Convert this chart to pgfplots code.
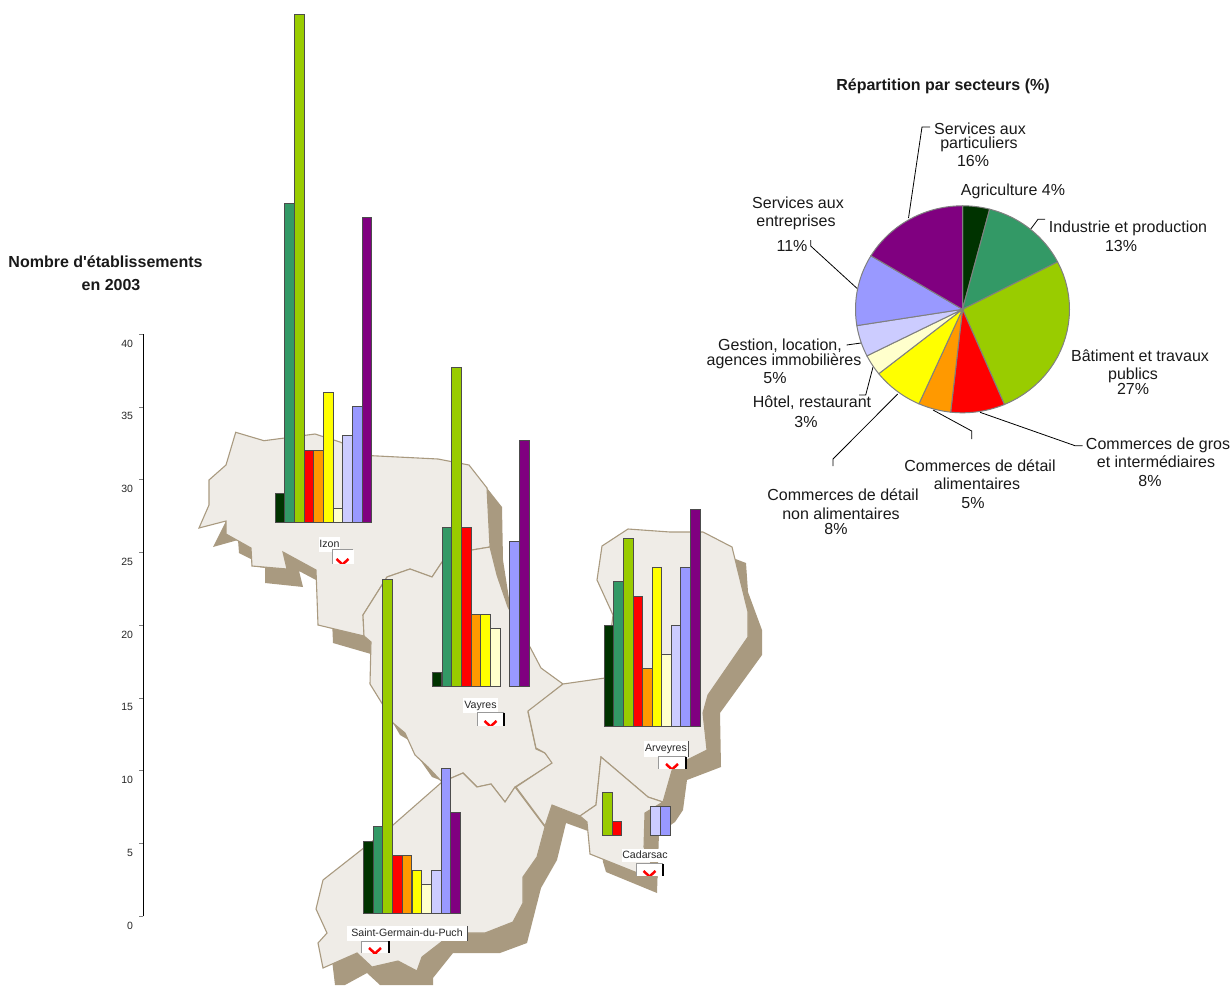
\documentclass[border=0pt]{standalone}
\usepackage{pgfplots}
\pgfplotsset{compat=1.18}
\usepackage{fontspec}
\setmainfont{Liberation Sans}
\newfontfamily\titlefont{Liberation Sans}
\newcommand\fs[1]{\fontsize{#1}{#1}\selectfont}

% Sector colours, in legend order
\definecolor{sec0}{HTML}{003300}
\definecolor{sec1}{HTML}{339966}
\definecolor{sec2}{HTML}{99CC00}
\definecolor{sec3}{HTML}{FF0000}
\definecolor{sec4}{HTML}{FF9900}
\definecolor{sec5}{HTML}{FFFF00}
\definecolor{sec6}{HTML}{FFFFCC}
\definecolor{sec7}{HTML}{CCCCFF}
\definecolor{sec8}{HTML}{9999FF}
\definecolor{sec9}{HTML}{800080}
\definecolor{land}{HTML}{EFECE7}
\definecolor{relief}{HTML}{A99A80}
\definecolor{slicegray}{HTML}{808080}

% One commune: a hidden axis whose vertical scale is shared with the drawn ruler
\newenvironment{commune}[3][97]{%
  \begin{axis}[
    scale only axis, width=#1pt, height=581pt,
    at={(#2pt,{985pt-#3pt})}, anchor=south west,
    xmin=-0.5, xmax=9.5, ymin=0, ymax=40,
    hide axis, clip=false]
}{\end{axis}}
\newcommand\secbar[2]{%
  \addplot[ybar, bar width=9.6pt, bar shift=0pt, fill=sec#1, draw=black!70, line width=1pt]
    coordinates {(#1,#2)};}

% Map outlines in page coordinates
\newcommand\relief[1]{\addplot[fill=relief, draw=none, forget plot] coordinates {#1} -- cycle;}
\newcommand\commarea[1]{\addplot[fill=land, draw=relief, line width=1.1pt, forget plot] coordinates {#1} -- cycle;}
\newcommand\leader[1]{\addplot[black, line width=0.8pt, forget plot] coordinates {#1};}

% Pie slice built from a count of establishments (total 367), clockwise from the top
\def\cum{0}
\newcommand\pieslice[2]{%
  \pgfmathsetmacro\wa{\cum/367*360}%
  \pgfmathsetmacro\wb{(\cum+#2)/367*360}%
  \xdef\pts{(0,0)}%
  \foreach \k in {0,...,24}{%
    \pgfmathsetmacro\t{\wa+(\wb-\wa)*\k/24}%
    \pgfmathsetmacro\px{sin(\t)}%
    \pgfmathsetmacro\py{cos(\t)}%
    \xdef\pts{\pts (\px,\py)}%
  }%
  \edef\tmp{\noexpand\addplot[fill=sec#1, draw=slicegray, line width=1pt, forget plot] coordinates {\pts} -- cycle;}\tmp
  \pgfmathsetmacro\nc{\cum+#2}\xdef\cum{\nc}%
}

% Place-name tag with its broken picture frame
\def\frameedge{black}
\newcommand\placetag[9]{%
  \fill[white] (#1,#2) rectangle (#3,#4);
  \node[font=\fs{10.6}, text=black!85, inner sep=0pt, text height=.72em, text depth=.2em] at ({(#1+#3)/2},{(#2+#4)/2}) {#5};
  \fill[white] (#6,#7) rectangle (#8,#9);
  \draw[gray!80, line width=1pt] (#6,#9) -- (#6,#7) -- (#8,#7);
  \draw[\frameedge, line width=1.2pt] (#8,#7) -- (#8,#9);
  \begin{scope}
    \clip (#6,#7) rectangle (#8,#9);
    \draw[red, line width=2.5pt] ({(#6+#8)/2-6},{#9-5}) -- ({(#6+#8)/2+6},{#9+6});
    \draw[red, line width=2.5pt] ({(#6+#8)/2+6},{#9-5}) -- ({(#6+#8)/2-6},{#9+6});
  \end{scope}
}

\begin{document}
\begin{tikzpicture}
\useasboundingbox (0,0) rectangle (1231pt,985pt);

% Base map
\begin{axis}[
  scale only axis, width=1231pt, height=985pt, at={(0,0)}, anchor=south west,
  xmin=0, xmax=1231, ymin=0, ymax=985, y dir=reverse, hide axis, clip=true]
  % Relief under the communes
  \relief{(226,521)(213,547)(238,540)(239,553)(251,559)(252,566)(265,568)(265,583)(303,587)(299,571)(316,580)(316,560)(240,520)}
  \relief{(332,620)(333,643)(371,654)(371,630)}
  \relief{(487,488)(502,507)(503,560)(510,605)(530,648)(537,665)(500,660)(480,550)}
  \relief{(393,723)(404,726)(412,742)(400,735)}
  \relief{(418,757)(430,762)(445,782)(432,777)}
  \relief{(733,558)(746,563)(748,592)(762,630)(762,655)(720,713)(721,767)(687,780)(683,810)(675,822)(659,833)(657,893)(606,872)(603,862)(600,800)(660,760)}
  \relief{(545,827)(552,805)(587,819)(588,831)(566,823)(557,860)(541,888)(527,943)(500,953)(453,953)(433,978)(433,985)(380,985)(367,973)(345,985)(335,985)(332,960)(420,900)}
  % Communes
  \commarea{(235.7,432.3)(264,440.7)(315,434)(340,442)(371.7,455.7)(438,459)(469,465)(487,488)(490,547)(472,550)(442,562)(432,577)(410,569)(387,577)(363,615)(364,636)(318,625)(316,570)(283,552)(287,569)(252,566)(251,548)(226,534)(226,521)(199,528)(209,505)(209,480)(226,465)}
  \commarea{(387,577)(410,569)(432,577)(442,562)(472,550)(490,547)(497,575)(508,607)(530,647)(541,668)(563,684)(528,712)(536,749)(545,753)(552.7,763)(515,787)(505,802)(491,784)(477,787)(463,773)(442,782)(428,767)(415,755)(405,733)(393,723)(383,705)(370,684)(371,642)(364,636)(363,615)}
  \commarea{(628,529)(602,546)(597,580)(613,615)(605,678)(563,684)(528,711)(536,748)(545,753)(552,763)(516,787)(545,826)(552,805)(580,816)(596,805)(601,757)(648,797)(663,802)(673,767)(707,750)(703,713)(708,695)(748,637)(748,612)(732,547)(703,532)(670,532)}
  \commarea{(601,757)(648,797)(663,802)(645,813)(644,847)(657,877)(635,872)(590,854)(587,822)(580,816)(596,805)}
  \commarea{(442,782)(393,825)(323,880)(316,909)(327,933)(318,943)(323,968)(357,953)(372,967)(398,961)(417,971)(422,957)(453,933)(485,933)(513,922)(523,903)(523,877)(537,857)(545,827)(515,787)(505,802)(491,784)(477,787)(463,773)}
  % Leader lines of the pie labels
  \leader{(810.7,240)(810.7,246)(857.7,289)}
  \leader{(846.7,345)(861,343)}
  \leader{(859,395)(865.7,395)(873,367)}
  \leader{(833,466)(833,459)(897.7,394)}
  \leader{(971.7,439)(971.7,431)(933,410)}
  \leader{(1082.7,445.7)(1075,445.7)(980,412.3)}
  \leader{(1045,219.3)(1038,219.3)(1030,230)}
  \leader{(930,127)(922,127)(908.5,218)}
\end{axis}

% Ruler of establishment counts
\begin{axis}[
  scale only axis, width=10pt, height=582pt,
  at={(143pt,68.5pt)}, anchor=south west,
  xmin=0, xmax=1, ymin=0, ymax=40,
  axis x line=none, axis y line=left, y axis line style={-, line width=1pt},
  ytick={0,5,...,40}, tick align=outside, tickwidth=4pt,
  ytick style={line width=1pt},
  /pgf/number format/assume math mode=true,
  yticklabel style={font=\fs{10.5}, text=black!85, yshift=-9pt, xshift=-2.5pt}]
  \addplot[draw=none, forget plot] coordinates {(0,0)(0,40)};
\end{axis}

% Izon
\begin{commune}{275}{523}
  \secbar{0}{2}\secbar{1}{22}\secbar{2}{35}\secbar{3}{5}\secbar{4}{5}\secbar{5}{9}\secbar{6}{1}\secbar{7}{6}\secbar{8}{8}\secbar{9}{21}
\end{commune}
% Vayres
\begin{commune}{432.3}{687}
  \secbar{0}{1}\secbar{1}{11}\secbar{2}{22}\secbar{3}{11}\secbar{4}{5}\secbar{5}{5}\secbar{6}{4}\secbar{8}{10}\secbar{9}{17}
\end{commune}
% Arveyres
\begin{commune}[95.7]{604.3}{727}
  \secbar{0}{7}\secbar{1}{10}\secbar{2}{13}\secbar{3}{9}\secbar{4}{4}\secbar{5}{11}\secbar{6}{5}\secbar{7}{7}\secbar{8}{11}\secbar{9}{15}
\end{commune}
% Cadarsac
\begin{commune}{583}{836}
  \secbar{2}{3}\secbar{3}{1}\secbar{7}{2}\secbar{8}{2}
\end{commune}
% Saint-Germain-du-Puch
\begin{commune}{363.5}{914}
  \secbar{0}{5}\secbar{1}{6}\secbar{2}{23}\secbar{3}{4}\secbar{4}{4}\secbar{5}{3}\secbar{6}{2}\secbar{7}{3}\secbar{8}{10}\secbar{9}{7}
\end{commune}

% Sector shares over all communes
\begin{axis}[
  scale only axis, width=214pt, height=207pt,
  at={(962.5pt,675.7pt)}, anchor=center,
  xmin=-1, xmax=1, ymin=-1, ymax=1, hide axis, clip=false]
  \pieslice{0}{15}
  \pieslice{1}{49}
  \pieslice{2}{96}
  \pieslice{3}{30}
  \pieslice{4}{18}
  \pieslice{5}{28}
  \pieslice{6}{12}
  \pieslice{7}{18}
  \pieslice{8}{41}
  \pieslice{9}{60}
\end{axis}

\begin{scope}[x=1pt, y=-1pt, shift={(0,985pt)}]
  % Titles
  \node[font=\titlefont\fs{16}\bfseries, text=black!90] at (943,86) {Répartition par secteurs (\%)};
  \node[font=\titlefont\fs{16}\bfseries, text=black!90] at (105.5,262) {Nombre d'établissements};
  \node[font=\titlefont\fs{16}\bfseries, text=black!90] at (111,285) {en 2003};
  % Pie labels
  \foreach \tx/\ty/\txt in {
    980/128.5/Services aux, 979/143/particuliers, 973/161/16\%,
    1013/190/Agriculture 4\%,
    1128/227/Industrie et production, 1121/246/13\%,
    1140/356/Bâtiment et travaux, 1133/374/publics, 1133/389/27\%,
    1158/444/Commerces de gros, 1156/462/et intermédiaires, 1150/481/8\%,
    980/466/Commerces de détail, 977/484/alimentaires, 973/503/5\%,
    843/495/Commerces de détail, 841/514/non alimentaires, 836/529/8\%,
    812/402/{Hôtel, restaurant}, 806/422/3\%,
    780/345/{Gestion, location,}, 784/360/agences immobilières, 775/378/5\%,
    798/203/Services aux, 796/221/entreprises, 792/246/11\%}
    {\node[font=\fs{16}, text=black!90, inner sep=0pt, text height=.72em, text depth=.2em, yshift=-3pt] at (\tx,\ty) {\txt};}
  % Place names
  \def\frameedge{white}
  \placetag{319}{537}{340}{552}{Izon}{332}{550}{353}{564}
  \def\frameedge{black}
  \placetag{463}{698}{498}{713}{Vayres}{477}{713}{504}{726}
  \placetag{644}{741}{688}{757}{Arveyres}{658}{757}{686}{769}
  \placetag{622}{849}{668}{862}{Cadarsac}{636}{864}{663}{876}
  \placetag{347}{926}{467}{941}{Saint-Germain-du-Puch}{361}{941}{389}{953}
  \draw[black!70, line width=0.8pt] (688,741) -- (688,757);
  \draw[black!70, line width=0.8pt] (467,926) -- (467,941);
\end{scope}
\end{tikzpicture}
\end{document}
